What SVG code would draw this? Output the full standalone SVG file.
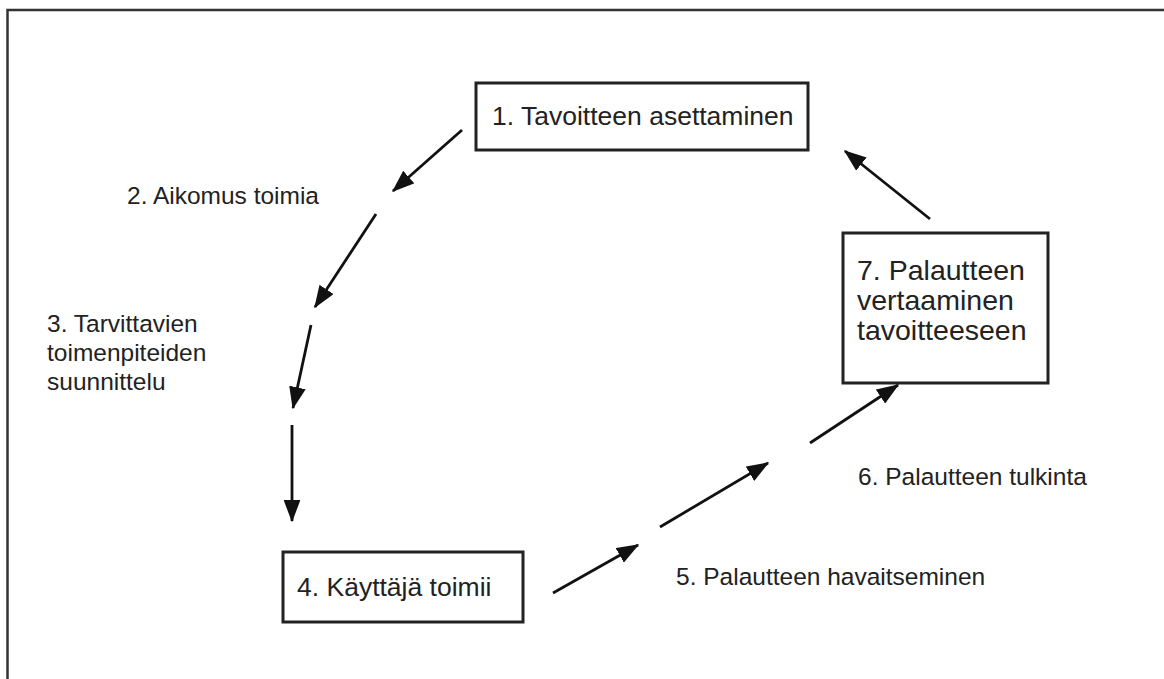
<svg xmlns="http://www.w3.org/2000/svg" width="1164" height="679" viewBox="0 0 1164 679">
  <style>
    .frame { fill: none; stroke: #333; stroke-width: 2.5; }
    .box { fill: #fff; stroke: #222; stroke-width: 3; }
    .label { font-family: "Liberation Sans", Arial, sans-serif; font-size: 24.5px; fill: #222; }
    .big { font-size: 26.5px; }
    .bigger { font-size: 28.5px; }
    .conn { stroke: #111; stroke-width: 2.8; fill: none; marker-end: url(#head); }
  </style>
  <defs>
    <marker id="head" markerWidth="8" markerHeight="6" refX="7.5" refY="3" orient="auto" markerUnits="strokeWidth">
      <path d="M0,0 L8,3 L0,6 Z" fill="#111"/>
    </marker>
  </defs>

  <rect width="1164" height="679" fill="#fff"/>
  <!-- outer frame: left and top edges only -->
  <path class="frame" d="M7.5,679 V10 H1164"/>

  <g id="node-1">
    <rect class="box" x="476" y="83" width="332" height="67"/>
    <text class="label big" x="492" y="125">1. Tavoitteen asettaminen</text>
  </g>

  <g id="label-2">
    <text class="label" x="127" y="204">2. Aikomus toimia</text>
  </g>

  <g id="label-3">
    <text class="label" x="47" y="332">3. Tarvittavien</text>
    <text class="label" x="47" y="361">toimenpiteiden</text>
    <text class="label" x="47" y="390">suunnittelu</text>
  </g>

  <g id="node-4">
    <rect class="box" x="283" y="552" width="240" height="70"/>
    <text class="label big" x="297" y="596">4. Käyttäjä toimii</text>
  </g>

  <g id="label-5">
    <text class="label" x="676" y="585">5. Palautteen havaitseminen</text>
  </g>

  <g id="label-6">
    <text class="label" x="858" y="485">6. Palautteen tulkinta</text>
  </g>

  <g id="node-7">
    <rect class="box" x="843" y="233" width="205" height="150"/>
    <text class="label bigger" x="857" y="280">7. Palautteen</text>
    <text class="label bigger" x="857" y="310">vertaaminen</text>
    <text class="label bigger" x="857" y="340">tavoitteeseen</text>
  </g>

  <g id="connectors">
    <line class="conn" x1="462" y1="130" x2="393" y2="191"/>
    <line class="conn" x1="376" y1="214" x2="315" y2="307"/>
    <line class="conn" x1="311" y1="325" x2="293" y2="408"/>
    <line class="conn" x1="292" y1="425" x2="292" y2="521"/>
    <line class="conn" x1="553" y1="593" x2="638" y2="545"/>
    <line class="conn" x1="660" y1="527" x2="768" y2="463"/>
    <line class="conn" x1="810" y1="443" x2="898" y2="385"/>
    <line class="conn" x1="930" y1="219" x2="845" y2="151"/>
  </g>
</svg>
